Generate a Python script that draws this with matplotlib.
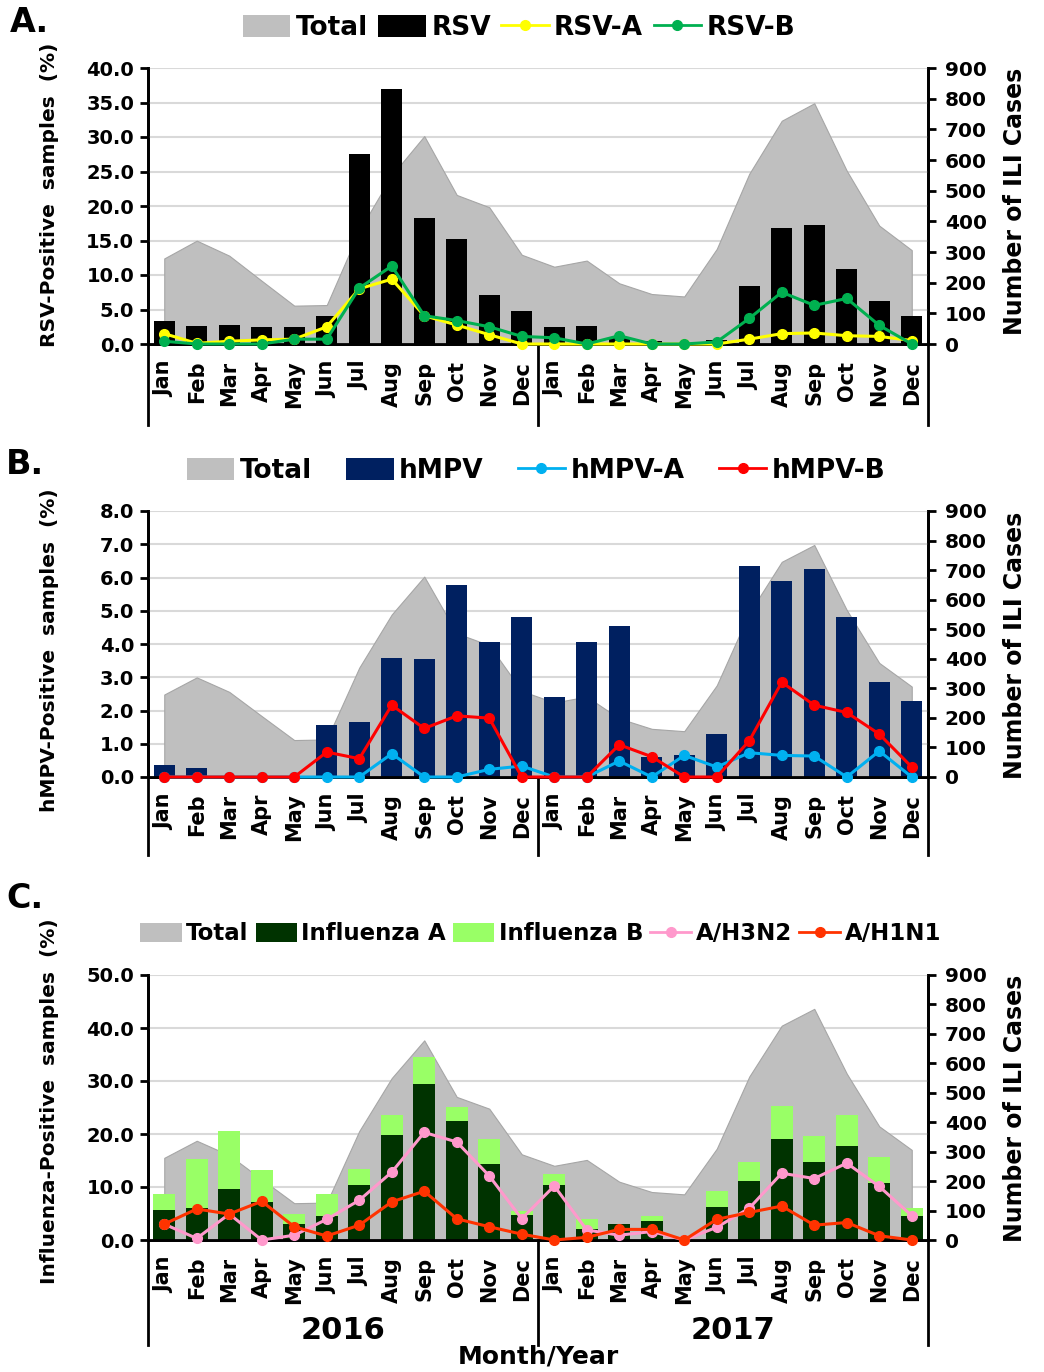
import numpy as np
import matplotlib
matplotlib.use('Agg')
import matplotlib.pyplot as plt
from matplotlib.patches import Patch
from matplotlib.lines import Line2D

plt.rcParams['font.family'] = ['DejaVu Sans']
plt.rcParams['font.weight'] = 'bold'

# months, two years
months = ['Jan', 'Feb', 'Mar', 'Apr', 'May', 'Jun', 'Jul', 'Aug', 'Sep', 'Oct', 'Nov', 'Dec'] * 2
years = ['2016', '2017']

# ILI cases (right axis), same in every panel
total_ili = [279, 337, 288, 206, 125, 127, 370, 550, 678, 486, 446, 291,
             252, 272, 198, 163, 155, 310, 555, 728, 785, 565, 386, 306]

# panel A - RSV (%)
rsv = [3.3, 2.6, 2.75, 2.4, 2.4, 4.0, 27.5, 37.0, 18.3, 15.2, 7.05, 4.8,
       2.4, 2.6, 1.0, 0.5, 0.0, 0.6, 8.45, 16.8, 17.3, 10.9, 6.2, 4.0]
rsv_a = [1.5, 0.1, 0.4, 0.6, 0.7, 2.5, 8.0, 9.4, 4.1, 2.75, 1.35, 0.0,
         0.0, 0.0, 0.0, 0.0, 0.0, 0.0, 0.7, 1.5, 1.6, 1.2, 1.1, 0.5]
rsv_b = [0.4, 0.0, 0.0, 0.0, 0.7, 0.7, 8.1, 11.3, 4.1, 3.4, 2.5, 1.1,
         0.9, 0.0, 1.2, 0.0, 0.0, 0.3, 3.7, 7.5, 5.6, 6.6, 2.7, 0.0]

# panel B - hMPV (%)
hmpv = [0.35, 0.28, 0.0, 0.0, 0.0, 1.57, 1.64, 3.59, 3.55, 5.78, 4.05, 4.81,
        2.40, 4.05, 4.53, 0.6, 0.65, 1.29, 6.36, 5.9, 6.26, 4.81, 2.87, 2.29]
hmpv_a = [0.0, 0.0, 0.0, 0.0, 0.0, 0.0, 0.0, 0.7, 0.0, 0.0, 0.23, 0.33,
          0.0, 0.0, 0.48, 0.0, 0.65, 0.3, 0.73, 0.65, 0.63, 0.0, 0.78, 0.0]
hmpv_b = [0.0, 0.0, 0.0, 0.0, 0.0, 0.75, 0.55, 2.16, 1.46, 1.84, 1.77, 0.0,
          0.0, 0.0, 0.97, 0.61, 0.0, 0.0, 1.09, 2.85, 2.16, 1.94, 1.29, 0.3]

# panel C - influenza (%)
flu_a = [5.7, 6.1, 9.7, 7.2, 3.1, 4.5, 10.3, 19.8, 29.5, 22.5, 14.4, 4.7,
         10.3, 2.0, 3.1, 3.6, 0.0, 6.3, 11.1, 19.1, 14.7, 17.8, 10.8, 4.5]
flu_b = [3.0, 9.1, 10.9, 6.0, 1.8, 4.2, 3.1, 3.8, 5.1, 2.6, 4.7, 0.8,
         2.2, 2.0, 0.0, 0.9, 0.0, 2.9, 3.7, 6.2, 5.0, 5.8, 4.9, 1.5]
h3n2 = [3.0, 0.3, 4.9, 0.0, 0.9, 3.9, 7.5, 12.8, 20.3, 18.5, 12.1, 4.0,
        10.2, 1.9, 0.9, 1.6, 0.0, 2.4, 6.0, 12.6, 11.6, 14.5, 10.1, 4.6]
h1n1 = [3.0, 5.85, 4.9, 7.3, 2.5, 0.75, 2.8, 7.2, 9.2, 4.0, 2.5, 1.1,
        0.0, 0.5, 2.0, 2.0, 0.0, 3.9, 5.2, 6.4, 2.8, 3.3, 0.8, 0.0]

W, H = 1044, 1372
fig = plt.figure(figsize=(W / 100, H / 100), dpi=100)
x = np.arange(len(months))
GRAY = '#BFBFBF'


def make_panel(top_px, bot_px, ymax, ystep, sep_frac):
    ax = fig.add_axes([148 / W, 1 - bot_px / H, 780 / W, (bot_px - top_px) / H])
    ax2 = ax.twinx()
    ax.set_zorder(ax2.get_zorder() + 1)
    ax.patch.set_visible(False)
    ax.set_xlim(-0.5, 23.5)
    ax.set_ylim(0, ymax)
    ax2.set_ylim(0, 900)
    # grey ILI area drawn on ax, in right-axis units
    ax.fill_between(x, 0, total_ili, transform=ax2.transData, color=GRAY,
                    edgecolor='#A6A6A6', linewidth=0.8, zorder=1)
    ticks = np.arange(0, ymax + ystep / 2, ystep)
    ax.set_yticks(ticks)
    ax.set_yticklabels(['%.1f' % v for v in ticks], fontsize=14)
    ax.yaxis.grid(True, color='#D9D9D9', linewidth=1.5, zorder=0)
    ax.set_axisbelow(True)
    ax2.set_yticks(np.arange(0, 901, 100))
    ax2.set_yticklabels([str(v) for v in range(0, 901, 100)], fontsize=14.5)
    ax.set_xticks(x)
    ax.set_xticklabels(months, rotation=90, fontsize=15, va='top')
    ax.tick_params(axis='x', length=0, pad=12)
    ax.tick_params(axis='y', direction='out', length=6, width=2, pad=4)
    ax2.tick_params(axis='y', direction='out', length=6, width=2, pad=6)
    for a in (ax, ax2):
        a.spines['top'].set_visible(False)
        for s in ('left', 'right', 'bottom'):
            a.spines[s].set_linewidth(2)
    # vertical separators below the axis (two-level category axis)
    for xs in (-0.5, 11.5, 23.5):
        ax.plot([xs, xs], [0, -sep_frac], color='black', lw=2,
                transform=ax.get_xaxis_transform(), clip_on=False)
    return ax


def line(ax, vals, color, lw=2.2, ms=7):
    ax.plot(x, vals, color=color, lw=lw, marker='o', markersize=ms, zorder=4, clip_on=False)


# ---- A
axA = make_panel(68, 344, 40, 5, 0.293)
axA.bar(x, rsv, width=0.66, color='black', zorder=2)
line(axA, rsv_a, '#FFFF00')
line(axA, rsv_b, '#00B050')

# ---- B
axB = make_panel(511, 777, 8, 1, 0.293)
axB.bar(x, hmpv, width=0.66, color='#002060', zorder=2)
line(axB, hmpv_a, '#00B0F0')
line(axB, hmpv_b, '#FF0000')

# ---- C
axC = make_panel(975, 1240, 50, 10, 0.396)
axC.bar(x, flu_a, width=0.68, color='#003300', zorder=2)
axC.bar(x, flu_b, width=0.68, bottom=flu_a, color='#99FF66', zorder=2)
line(axC, h3n2, '#FF99CC')
line(axC, h1n1, '#FF3300')
for i, yr in enumerate(years):
    axC.text(5.5 + 12 * i, -0.34, yr, transform=axC.get_xaxis_transform(),
             ha='center', va='center', fontsize=22)
fig.text(538 / W, 1 - 1357 / H, 'Month/Year', ha='center', va='center', fontsize=18)

# labels
for lbl, yc in [('RSV-Positive  samples  (%)', 195), ('hMPV-Positive  samples  (%)', 650),
                ('Influenza-Positive  samples  (%)', 1101)]:
    fig.text(50 / W, 1 - yc / H, lbl, rotation=90, ha='center', va='center', fontsize=14.5)
for yc in (201, 645, 1108):
    fig.text(1015 / W, 1 - yc / H, 'Number of ILI Cases', rotation=90, ha='center',
             va='center', fontsize=17)
for lbl, xp, yp in [('A.', 10, 22), ('B.', 6, 465), ('C.', 6, 898)]:
    fig.text(xp / W, 1 - yp / H, lbl, ha='left', va='center', fontsize=24)


# legends
def mk_patch(c):
    return Patch(facecolor=c, edgecolor='none')


def mk_line(c):
    return Line2D([], [], color=c, lw=2, marker='o', markersize=7)


legends = [
    ([mk_patch(GRAY), mk_patch('black'), mk_line('#FFFF00'), mk_line('#00B050')],
     ['Total', 'RSV', 'RSV-A', 'RSV-B'], 519, 28, 19, 0.4),
    ([mk_patch(GRAY), mk_patch('#002060'), mk_line('#00B0F0'), mk_line('#FF0000')],
     ['Total', 'hMPV', 'hMPV-A', 'hMPV-B'], 536, 471, 19, 1.3),
    ([mk_patch(GRAY), mk_patch('#003300'), mk_patch('#99FF66'), mk_line('#FF99CC'), mk_line('#FF3300')],
     ['Total', 'Influenza A', 'Influenza B', 'A/H3N2', 'A/H1N1'], 541, 934, 16.5, 0.3),
]
for handles, labels, xc, yc, fs, cs in legends:
    fig.legend(handles, labels, loc='center', bbox_to_anchor=(xc / W, 1 - yc / H),
               ncol=len(labels), frameon=False, handlelength=1.8, handleheight=0.9,
               handletextpad=0.2, columnspacing=cs,
               prop={'weight': 'bold', 'size': fs})

fig.savefig('out.png', dpi=100)
